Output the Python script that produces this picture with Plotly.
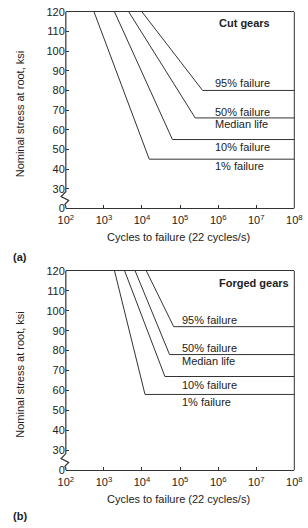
import plotly.graph_objects as go

# ---------------- data ----------------
series_labels = ["1% failure", "10% failure", "50% failure", "95% failure"]
max_stress = 120
max_cycles = 1e8

cut_start_cycles = [550, 1.9e3, 4.5e3, 1.0e4]
cut_knee_cycles = [1.55e4, 6.3e4, 2.5e5, 3.9e5]
cut_endurance = [45, 55, 66, 80]

forged_start_cycles = [1.9e3, 3.5e3, 6.6e3, 1.3e4]
forged_knee_cycles = [1.2e4, 4.0e4, 5.3e4, 6.8e4]
forged_endurance = [58, 67, 78, 92]

x_tick_vals = [1e2, 1e3, 1e4, 1e5, 1e6, 1e7, 1e8]
x_tick_text = ["10<sup>2</sup>", "10<sup>3</sup>", "10<sup>4</sup>", "10<sup>5</sup>",
               "10<sup>6</sup>", "10<sup>7</sup>", "10<sup>8</sup>"]
y_tick_vals = [20, 30, 40, 50, 60, 70, 80, 90, 100, 110, 120]
y_tick_text = ["0", "30", "40", "50", "60", "70", "80", "90", "100", "110", "120"]

# ---------------- layout helpers ----------------
W, H = 308, 528
def px(x):
    return x / W
def py(y):
    return 1 - y / H

L, R = 61, 302
panels = [
    dict(top=6, bottom=207, name="Cut gears", starts=cut_start_cycles,
         knees=cut_knee_cycles, endur=cut_endurance, tag="(a)"),
    dict(top=271, bottom=475, name="Forged gears", starts=forged_start_cycles,
         knees=forged_knee_cycles, endur=forged_endurance, tag="(b)"),
]

fig = go.Figure()
font = dict(family="Liberation Sans, Arial, sans-serif", size=11, color="#222")
line_col = "#333"
shapes = []
annotations = []

for i, p in enumerate(panels):
    xa = "x" if i == 0 else "x2"
    ya = "y" if i == 0 else "y2"
    for s, k, e, lab in zip(p["starts"], p["knees"], p["endur"], series_labels):
        fig.add_trace(go.Scatter(x=[s, k, max_cycles], y=[max_stress, e, e], mode="lines",
                                 line=dict(color=line_col, width=1), name=lab,
                                 showlegend=False, xaxis=xa, yaxis=ya, hoverinfo="skip"))
    # frame: left axis with break, right border
    t, b = p["top"], p["bottom"]
    yb = b - 17
    path = (f"M {px(L)},{py(t)} L {px(L)},{py(yb)} L {px(L-5)},{py(yb+5)} "
            f"L {px(L+3)},{py(yb+9)} L {px(L-1)},{py(yb+13)} L {px(L)},{py(yb+15)} L {px(L)},{py(b)}")
    shapes.append(dict(type="path", path=path, xref="paper", yref="paper",
                       line=dict(color=line_col, width=1.2)))
    shapes.append(dict(type="line", x0=px(R), x1=px(R), y0=py(t), y1=py(b),
                       xref="paper", yref="paper", line=dict(color=line_col, width=1)))
    # axis titles and tags
    annotations.append(dict(text="Cycles to failure (22 cycles/s)", x=px(180), y=py(b + 29),
                            xref="paper", yref="paper", showarrow=False, font=font,
                            xanchor="center", yanchor="middle"))
    annotations.append(dict(text="Nominal stress at root, ksi", x=px(13), y=py((t + b) / 2 + 4),
                            xref="paper", yref="paper", showarrow=False, font=font,
                            textangle=-90, xanchor="center", yanchor="middle"))
    annotations.append(dict(text="<b>" + p["tag"] + "</b>", x=px(3), y=py(b + 50 if i == 0 else b + 47),
                            xref="paper", yref="paper", showarrow=False, font=font,
                            xanchor="left", yanchor="middle"))

# curve labels
cut_label_pos = [("95% failure", 83.7), ("50% failure", 69.2), ("Median life", 62.8),
                 ("10% failure", 51.3), ("1% failure", 41.4)]
for txt, yv in cut_label_pos:
    annotations.append(dict(text=txt, x=5.86, y=yv, xref="x", yref="y", showarrow=False,
                            font=font, xanchor="left", yanchor="middle"))
annotations.append(dict(text="<b>Cut gears</b>", x=6.68, y=114.5, xref="x", yref="y",
                        showarrow=False, font=font, xanchor="center", yanchor="middle"))

forged_label_pos = [("95% failure", 95.5), ("50% failure", 81.3), ("Median life", 74.9),
                    ("10% failure", 62.6), ("1% failure", 54.3)]
for txt, yv in forged_label_pos:
    annotations.append(dict(text=txt, x=4.99, y=yv, xref="x2", yref="y2", showarrow=False,
                            font=font, xanchor="left", yanchor="middle"))
annotations.append(dict(text="<b>Forged gears</b>", x=6.93, y=114.1, xref="x2", yref="y2",
                        showarrow=False, font=font, xanchor="center", yanchor="middle"))

xcommon = dict(type="log", range=[2, 8], tickvals=x_tick_vals, ticktext=x_tick_text,
               ticks="inside", ticklen=3, tickcolor=line_col, showline=True, mirror=True,
               linecolor=line_col, linewidth=1, showgrid=False, zeroline=False,
               tickfont=font, domain=[px(L), px(R)], ticklabeloverflow="allow",
               ticklabelstandoff=2)
ycommon = dict(range=[20, 120], tickvals=y_tick_vals, ticktext=y_tick_text,
               ticks="inside", ticklen=3, tickcolor=line_col, showline=False,
               showgrid=False, zeroline=False, tickfont=font)

fig.update_layout(
    width=W, height=H, margin=dict(l=0, r=0, t=0, b=0),
    paper_bgcolor="white", plot_bgcolor="white",
    xaxis=dict(**xcommon, anchor="y"),
    xaxis2=dict(**xcommon, anchor="y2"),
    yaxis=dict(**ycommon, anchor="x", domain=[py(207), py(6)]),
    yaxis2=dict(**ycommon, anchor="x2", domain=[py(475), py(271)]),
    shapes=shapes, annotations=annotations, showlegend=False,
)

fig.write_html("out.html")
